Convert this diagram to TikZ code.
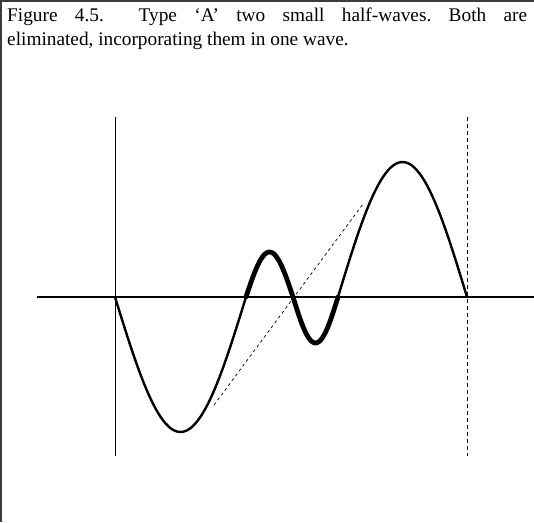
\documentclass[tikz,border=0pt]{standalone}
\usepackage{fontspec}
\setmainfont{Liberation Serif}
\usetikzlibrary{positioning}
\definecolor{ink}{RGB}{0,0,0}
\definecolor{rule}{RGB}{60,60,60}

\begin{document}
\begin{tikzpicture}[x=1pt, y=-1pt,
    wave/.style={ink, line width=2.4pt, line join=round},
    bump/.style={ink, line width=4.8pt, line join=round, line cap=round},
    chord/.style={ink, line width=0.7pt, dash pattern=on 3pt off 3pt}]
  \useasboundingbox (0,0) rectangle (534,522);
  % frame, top and left only
  \draw[rule, line width=1.5pt] (1,522) -- (1,1) -- (534,1);
  \node[anchor=north west, text width=520pt, align=justify, inner sep=0pt,
        font=\fontsize{19.3}{24}\selectfont\frenchspacing] (caption) at (7,8)
    {Figure 4.5.\ \ Type `A' two small half-waves. Both are\linebreak eliminated, incorporating them in one wave.};
  % axes
  \draw[ink, line width=2pt] (37,297) -- (534,297);
  \draw[ink, line width=0.9pt] (115,117) -- (115,456);
  \draw[ink, line width=0.9pt, dash pattern=on 4pt off 3pt] (467,117) -- (467,456);
  % the wave
  \draw[wave] plot[domain=0:180, samples=50] ({115+\x/180*131}, {297+135*sin(\x)});
  \draw[bump] plot[domain=0:180, samples=30] ({246+\x/180*47}, {297-45*sin(\x)});
  \draw[bump] plot[domain=0:180, samples=30] ({293+\x/180*45}, {297+46*sin(\x)});
  \draw[wave] plot[domain=0:180, samples=50] ({338+\x/180*129}, {297-135*sin(\x)});
  % chord through the small half-waves
  \coordinate (lo) at (214,405);
  \coordinate (hi) at (363,204);
  \draw[chord] (lo) -- (hi);
\end{tikzpicture}
\end{document}
